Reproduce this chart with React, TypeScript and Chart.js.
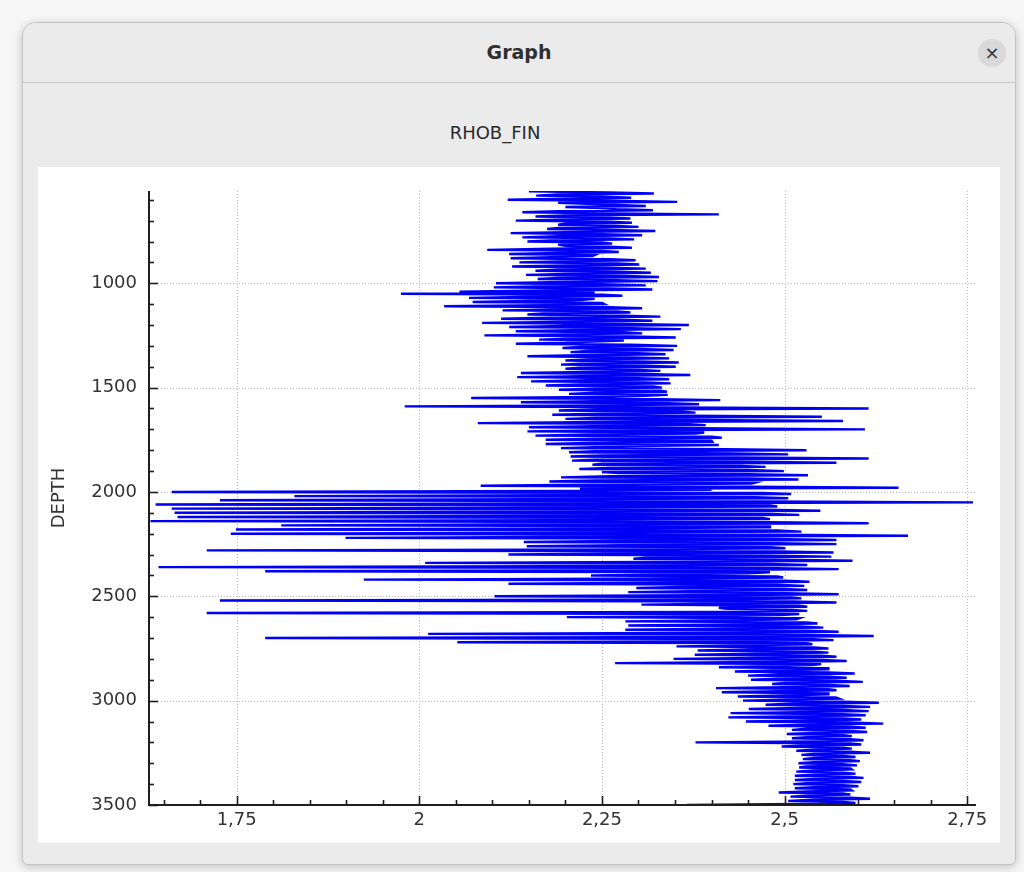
import React, { useEffect, useRef } from "react";
import { Chart, registerables } from "chart.js";

Chart.register(...registerables);

// Depth sampling of the log (m)
const DEPTH_STEP = 5;

// RHOB_FIN values (g/cc), one list per depth section, sampled every DEPTH_STEP
const RHOB_0560 = [
  2.150, 2.26, 2.321, 2.19, 2.160, 2.25, 2.290, 2.20, 2.121, 2.26,
  2.353, 2.19, 2.240, 2.27, 2.310, 2.20, 2.250, 2.27, 2.320, 2.19,
  2.141, 2.26, 2.410, 2.20, 2.159, 2.25, 2.289, 2.19, 2.132, 2.26,
  2.291, 2.20, 2.190, 2.27, 2.300, 2.19, 2.175, 2.26, 2.323, 2.20,
  2.125, 2.25, 2.305, 2.19, 2.141, 2.26, 2.294, 2.18, 2.148, 2.25,
  2.264, 2.19, 2.200, 2.26, 2.291, 2.18, 2.093, 2.25, 2.273, 2.19,
  2.123, 2.24, 2.237, 2.18, 2.125, 2.26, 2.296, 2.19, 2.137, 2.27,
  2.301, 2.20, 2.127, 2.26, 2.310, 2.19, 2.159, 2.27, 2.317, 2.20,
  2.146, 2.28, 2.328, 2.19, 2.162, 2.27, 2.326, 2.18,
];
const RHOB_1000 = [
  2.105, 2.25, 2.310, 2.16, 2.102, 2.26, 2.319, 2.17, 2.055, 2.24,
  1.975, 2.25, 2.278, 2.16, 2.068, 2.24, 2.221, 2.15, 2.073, 2.25,
  2.253, 2.17, 2.034, 2.26, 2.305, 2.18, 2.114, 2.27, 2.289, 2.17,
  2.148, 2.28, 2.330, 2.18, 2.112, 2.27, 2.319, 2.19, 2.086, 2.28,
  2.369, 2.20, 2.123, 2.29, 2.358, 2.21, 2.132, 2.28, 2.305, 2.20,
  2.089, 2.29, 2.351, 2.21, 2.164, 2.28, 2.228, 2.20, 2.132, 2.29,
  2.353, 2.22, 2.196, 2.30, 2.348, 2.23, 2.207, 2.30, 2.337, 2.22,
  2.148, 2.29, 2.342, 2.23, 2.200, 2.30, 2.355, 2.22, 2.194, 2.31,
  2.351, 2.22, 2.200, 2.30, 2.330, 2.23, 2.139, 2.31, 2.371, 2.22,
  2.134, 2.30, 2.342, 2.23, 2.153, 2.31, 2.344, 2.22, 2.173, 2.32,
];
const RHOB_1500 = [
  2.332, 2.24, 2.191, 2.33, 2.339, 2.24, 2.205, 2.34, 2.300, 2.25,
  2.071, 2.33, 2.412, 2.24, 2.139, 2.34, 2.383, 2.25, 1.980, 2.35,
  2.615, 2.24, 2.191, 2.36, 2.378, 2.25, 2.182, 2.37, 2.551, 2.24,
  2.200, 2.37, 2.580, 2.25, 2.080, 2.37, 2.392, 2.24, 2.150, 2.38,
  2.610, 2.24, 2.148, 2.39, 2.378, 2.23, 2.159, 2.40, 2.414, 2.24,
  2.173, 2.40, 2.401, 2.23, 2.173, 2.41, 2.291, 2.24, 2.194, 2.42,
  2.530, 2.24, 2.205, 2.43, 2.505, 2.25, 2.207, 2.43, 2.615, 2.24,
  2.209, 2.44, 2.571, 2.25, 2.237, 2.44, 2.474, 2.26, 2.219, 2.45,
  2.499, 2.25, 2.273, 2.45, 2.532, 2.26, 2.194, 2.45, 2.519, 2.24,
  2.178, 2.46, 2.455, 2.23, 2.084, 2.45, 2.656, 2.22, 2.400, 2.20,
];
const RHOB_2000 = [
  1.661, 2.47, 2.509, 2.18, 1.829, 2.46, 2.505, 2.15, 1.727, 2.47,
  2.758, 2.16, 1.639, 2.48, 2.490, 2.14, 1.661, 2.47, 2.549, 2.17,
  1.665, 2.48, 2.520, 2.15, 1.669, 2.47, 2.480, 2.18, 1.632, 2.48,
  2.615, 2.19, 1.811, 2.48, 2.480, 2.21, 1.749, 2.49, 2.523, 2.22,
  1.742, 2.48, 2.669, 2.24, 1.899, 2.48, 2.571, 2.27, 2.143, 2.49,
  2.571, 2.28, 2.147, 2.48, 2.501, 2.30, 1.709, 2.49, 2.567, 2.30,
  2.122, 2.48, 2.564, 2.31, 2.293, 2.49, 2.593, 2.32, 2.008, 2.48,
  2.531, 2.31, 1.643, 2.49, 2.574, 2.33, 1.789, 2.48, 2.450, 2.34,
  2.235, 2.49, 2.498, 2.34, 1.924, 2.50, 2.534, 2.35, 2.122, 2.49,
  2.527, 2.36, 2.297, 2.50, 2.531, 2.37, 2.286, 2.50, 2.574, 2.38,
];
const RHOB_2500 = [
  2.103, 2.51, 2.523, 2.40, 1.727, 2.51, 2.571, 2.41, 2.304, 2.52,
  2.531, 2.41, 2.421, 2.51, 2.531, 2.40, 1.709, 2.52, 2.494, 2.41,
  2.202, 2.52, 2.516, 2.42, 2.282, 2.53, 2.545, 2.43, 2.286, 2.52,
  2.553, 2.42, 2.282, 2.53, 2.574, 2.43, 2.012, 2.53, 2.622, 2.44,
  1.789, 2.54, 2.567, 2.44, 2.052, 2.53, 2.538, 2.45, 2.352, 2.54,
  2.560, 2.45, 2.381, 2.54, 2.560, 2.46, 2.377, 2.55, 2.571, 2.46,
  2.348, 2.55, 2.585, 2.47, 2.268, 2.55, 2.538, 2.48, 2.410, 2.56,
  2.560, 2.48, 2.432, 2.56, 2.596, 2.49, 2.450, 2.56, 2.585, 2.49,
  2.454, 2.57, 2.607, 2.50, 2.483, 2.56, 2.589, 2.50, 2.406, 2.56,
  2.571, 2.49, 2.414, 2.56, 2.560, 2.50, 2.436, 2.57, 2.574, 2.50,
];
const RHOB_3000 = [
  2.443, 2.58, 2.629, 2.51, 2.474, 2.58, 2.617, 2.52, 2.451, 2.58,
  2.615, 2.52, 2.426, 2.58, 2.611, 2.52, 2.423, 2.58, 2.605, 2.53,
  2.447, 2.59, 2.635, 2.53, 2.478, 2.59, 2.611, 2.53, 2.510, 2.59,
  2.613, 2.54, 2.503, 2.58, 2.592, 2.53, 2.510, 2.59, 2.608, 2.54,
  2.378, 2.59, 2.605, 2.53, 2.496, 2.58, 2.592, 2.54, 2.516, 2.59,
  2.617, 2.54, 2.523, 2.58, 2.597, 2.54, 2.525, 2.59, 2.603, 2.54,
  2.519, 2.58, 2.599, 2.53, 2.520, 2.59, 2.592, 2.54, 2.516, 2.58,
  2.597, 2.54, 2.514, 2.59, 2.608, 2.54, 2.514, 2.58, 2.605, 2.53,
  2.512, 2.58, 2.601, 2.54, 2.514, 2.59, 2.592, 2.53, 2.492, 2.58,
  2.590, 2.53, 2.508, 2.59, 2.617, 2.54, 2.505, 2.58, 2.597, 2.52,
  2.366,
];

const SECTIONS = [
  { top: 560, values: RHOB_0560 },
  { top: 1000, values: RHOB_1000 },
  { top: 1500, values: RHOB_1500 },
  { top: 2000, values: RHOB_2000 },
  { top: 2500, values: RHOB_2500 },
  { top: 3000, values: RHOB_3000 },
];

const X_TICKS = [1.75, 2, 2.25, 2.5, 2.75];
const Y_TICKS = [1000, 1500, 2000, 2500, 3000, 3500];
const X_MIN = 1.63;
const X_MAX = 2.762;
const Y_MIN = 558;
const Y_MAX = 3500;

const FONT = "'DejaVu Sans', sans-serif";

const axesPlugin = {
  id: "axesPlugin",
  beforeDatasetsDraw(chart: any) {
    const { ctx, chartArea: a, scales } = chart;
    const x = scales.x;
    const y = scales.y;
    ctx.save();
    ctx.strokeStyle = "#bdbdbd";
    ctx.lineWidth = 1;
    ctx.setLineDash([1, 2]);
    for (const v of X_TICKS) {
      const px = Math.round(x.getPixelForValue(v)) + 0.5;
      ctx.beginPath();
      ctx.moveTo(px, a.top);
      ctx.lineTo(px, a.bottom);
      ctx.stroke();
    }
    for (const v of Y_TICKS) {
      if (v >= Y_MAX) continue;
      const py = Math.round(y.getPixelForValue(v)) + 0.5;
      ctx.beginPath();
      ctx.moveTo(a.left, py);
      ctx.lineTo(a.right, py);
      ctx.stroke();
    }
    ctx.restore();
  },
  afterDatasetsDraw(chart: any) {
    const { ctx, chartArea: a, scales } = chart;
    const x = scales.x;
    const y = scales.y;
    ctx.save();
    ctx.strokeStyle = "#1e1e1e";
    ctx.lineWidth = 2;
    ctx.beginPath();
    ctx.moveTo(a.left, a.top);
    ctx.lineTo(a.left, a.bottom);
    ctx.lineTo(a.right, a.bottom);
    ctx.stroke();
    ctx.lineWidth = 1.6;
    for (let k = 6; k <= 35; k++) {
      const v = k * 100;
      const len = v % 500 === 0 ? 9 : 5;
      const py = Math.round(y.getPixelForValue(v)) + 0.5;
      ctx.beginPath();
      ctx.moveTo(a.left, py);
      ctx.lineTo(a.left + len, py);
      ctx.stroke();
    }
    for (let k = 33; k <= 55; k++) {
      const v = k * 0.05;
      const len = k % 5 === 0 ? 9 : 5;
      const px = Math.round(x.getPixelForValue(v)) + 0.5;
      ctx.beginPath();
      ctx.moveTo(px, a.bottom);
      ctx.lineTo(px, a.bottom - len);
      ctx.stroke();
    }
    ctx.restore();
  },
};

function LogChart() {
  const ref = useRef<HTMLCanvasElement | null>(null);
  useEffect(() => {
    if (!ref.current) return;
    const points = SECTIONS.flatMap((s) =>
      s.values.map((v, i) => ({ x: v, y: s.top + i * DEPTH_STEP }))
    );
    const chart = new Chart(ref.current, {
      type: "scatter",
      data: {
        datasets: [
          {
            label: "RHOB_FIN",
            data: points,
            showLine: true,
            borderColor: "#0000f5",
            borderWidth: 2.4,
            borderJoinStyle: "miter",
            pointRadius: 0,
            pointHoverRadius: 0,
            fill: false,
            tension: 0,
          },
        ],
      },
      options: {
        animation: false,
        responsive: false,
        devicePixelRatio: 1,
        layout: { padding: { top: 24, right: 24, left: 0, bottom: 0 } },
        plugins: {
          legend: { display: false },
          tooltip: { enabled: false },
          title: { display: false },
        },
        scales: {
          x: {
            type: "linear",
            min: X_MIN,
            max: X_MAX,
            grid: { display: false, drawTicks: false },
            border: { display: false },
            afterBuildTicks: (scale: any) => {
              scale.ticks = X_TICKS.map((v) => ({ value: v }));
            },
            afterFit: (scale: any) => {
              scale.height = 38;
            },
            ticks: {
              padding: 5,
              color: "#333333",
              font: { family: FONT, size: 18 },
              maxRotation: 0,
              autoSkip: false,
              callback: (v: any) => String(v).replace(".", ","),
            },
          },
          y: {
            type: "linear",
            reverse: true,
            min: Y_MIN,
            max: Y_MAX,
            grid: { display: false, drawTicks: false },
            border: { display: false },
            afterBuildTicks: (scale: any) => {
              scale.ticks = Y_TICKS.map((v) => ({ value: v }));
            },
            afterFit: (scale: any) => {
              scale.width = 111;
            },
            title: {
              display: true,
              text: "DEPTH",
              color: "#333333",
              font: { family: FONT, size: 18 },
              padding: { top: 11, bottom: 0 },
            },
            ticks: {
              padding: 12,
              color: "#333333",
              font: { family: FONT, size: 18 },
              autoSkip: false,
              callback: (v: any) => String(v),
            },
          },
        },
      },
      plugins: [axesPlugin],
    } as any);
    return () => chart.destroy();
  }, []);
  return <canvas ref={ref} width={962} height={676} style={{ display: "block" }} />;
}

export default function App() {
  return (
    <div
      style={{
        position: "fixed",
        left: 0,
        top: 0,
        width: 1024,
        height: 872,
        background: "#f6f6f6",
        overflow: "hidden",
        fontFamily: FONT,
      }}
    >
      <div
        style={{
          position: "absolute",
          left: 22,
          top: 22,
          width: 994,
          height: 843,
          boxSizing: "border-box",
          background: "#ebebeb",
          border: "1px solid #c4c4c4",
          borderRadius: "14px 14px 6px 6px",
          boxShadow: "0 2px 10px rgba(0,0,0,0.22)",
          overflow: "hidden",
        }}
      >
        <div
          style={{
            position: "absolute",
            left: 0,
            top: 0,
            right: 0,
            height: 59,
            borderBottom: "1px solid #c8c8c8",
            background: "#ebebeb",
          }}
        >
          <div
            style={{
              position: "absolute",
              left: 0,
              right: 0,
              top: 0,
              height: 59,
              lineHeight: "59px",
              textAlign: "center",
              fontWeight: "bold",
              fontSize: 19,
              color: "#303030",
            }}
          >
            Graph
          </div>
          <div
            style={{
              position: "absolute",
              left: 955,
              top: 16,
              width: 28,
              height: 28,
              borderRadius: "50%",
              background: "#d9d9d9",
              color: "#333",
              fontSize: 18,
              lineHeight: "28px",
              textAlign: "center",
            }}
          >
            ×
          </div>
        </div>
        <div
          style={{
            position: "absolute",
            left: 372,
            top: 98,
            width: 200,
            height: 24,
            lineHeight: "24px",
            textAlign: "center",
            fontSize: 18,
            color: "#2a2a2a",
          }}
        >
          RHOB_FIN
        </div>
        <div
          style={{
            position: "absolute",
            left: 15,
            top: 144,
            width: 962,
            height: 676,
            background: "#ffffff",
          }}
        >
          <LogChart />
        </div>
      </div>
    </div>
  );
}
